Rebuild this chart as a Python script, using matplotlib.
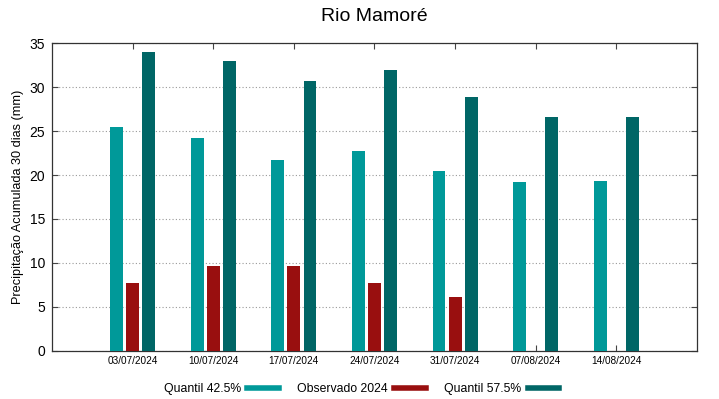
import numpy as np
import matplotlib
matplotlib.use("Agg")
import matplotlib.pyplot as plt
from matplotlib.lines import Line2D

plt.rcParams['font.family'] = ['Liberation Sans', 'DejaVu Sans']

# dados
datas = ['03/07/2024', '10/07/2024', '17/07/2024', '24/07/2024',
         '31/07/2024', '07/08/2024', '14/08/2024']
quantil_425 = [25.5, 24.2, 21.7, 22.7, 20.5, 19.2, 19.3]
observado_2024 = [7.7, 9.6, 9.6, 7.7, 6.1, np.nan, np.nan]
quantil_575 = [34.0, 33.0, 30.7, 32.0, 28.9, 26.6, 26.6]

cor_q1 = '#009999'
cor_obs = '#990f0f'
cor_q2 = '#006666'

fig = plt.figure(figsize=(7.19, 3.99), dpi=100)
ax = fig.add_axes([0.0723, 0.121, 0.8971, 0.7705])

x = np.arange(len(datas))
w = 0.16
ax.bar(x - 0.2, quantil_425, w, color=cor_q1, zorder=3)
ax.bar(x, observado_2024, w, color=cor_obs, zorder=3)
ax.bar(x + 0.2, quantil_575, w, color=cor_q2, zorder=3)

ax.set_xlim(-1, len(datas))
ax.set_ylim(0, 35)
ax.set_yticks(np.arange(0, 36, 5))
ax.set_xticks(x)
ax.set_xticklabels(datas, fontsize=7.2)
ax.tick_params(axis='y', labelsize=10, pad=5)
ax.tick_params(direction='in', top=True, right=True, length=4, color='#444444')
ax.yaxis.grid(True, linestyle=(0, (1, 2)), color='#999999', linewidth=0.8, zorder=0)
for s in ax.spines.values():
    s.set_color('#333333')
    s.set_linewidth(0.9)

ax.set_ylabel('Precipitação Acumulada 30 dias (mm)', fontsize=9.2, labelpad=4)
fig.text(0.521, 0.958, 'Rio Mamoré', ha='center', va='center', fontsize=14)

handles = [Line2D([], [], color=cor_q1, lw=4),
           Line2D([], [], color=cor_obs, lw=4),
           Line2D([], [], color=cor_q2, lw=4)]
labels = ['Quantil 42.5%', 'Observado 2024', 'Quantil 57.5%']
fig.legend(handles, labels, loc='center', bbox_to_anchor=(0.503, 0.024),
           ncol=3, frameon=False, markerfirst=False, fontsize=8.8,
           handlelength=2.6, handletextpad=0.5, columnspacing=1.5)

fig.savefig('out.png', dpi=100)
